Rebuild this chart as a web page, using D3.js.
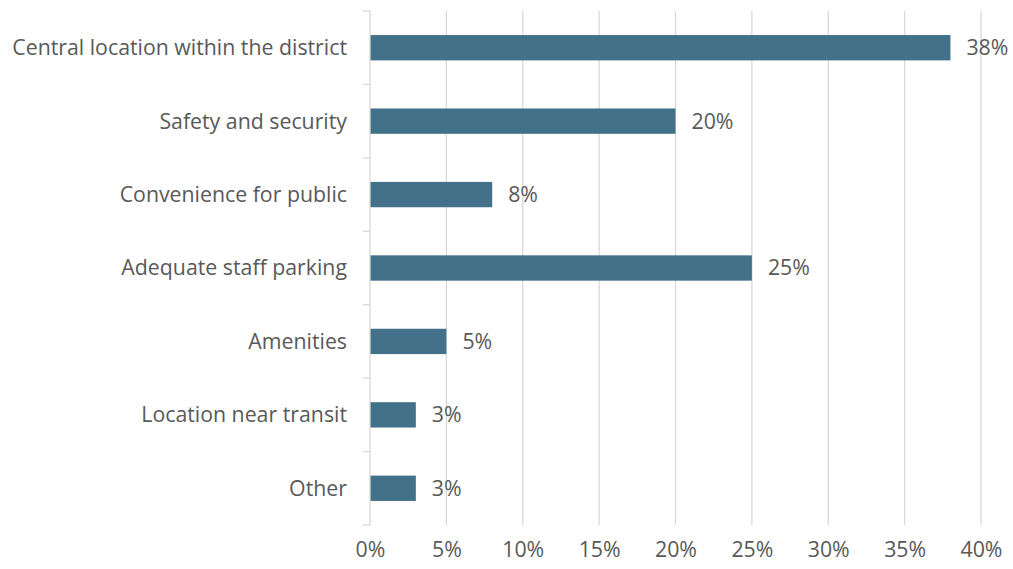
<!DOCTYPE html>
<html>
<head>
<meta charset="utf-8">
<script src="https://cdn.jsdelivr.net/npm/d3@7"></script>
<style>
  html, body { margin: 0; padding: 0; background: #fff; }
  svg text { font-family: "Open Sans", sans-serif; fill: #595959; }
</style>
</head>
<body>
<svg id="chart" width="1013" height="569"></svg>
<script>
// Survey responses: most important factor for office location
const categories = [
  "Central location within the district",
  "Safety and security",
  "Convenience for public",
  "Adequate staff parking",
  "Amenities",
  "Location near transit",
  "Other"
];
const shares = [38, 20, 8, 25, 5, 3, 3];
const xTicks = [0, 5, 10, 15, 20, 25, 30, 35, 40];

const svg = d3.select("#chart");
const margin = { top: 11, right: 32, bottom: 44, left: 370 };
const width = 1013 - margin.left - margin.right;
const height = 569 - margin.top - margin.bottom;
const fontSize = 21.3;

const g = svg.append("g").attr("transform", `translate(${margin.left},${margin.top})`);

const x = d3.scaleLinear().domain([0, 40]).range([0, 611]);
const y = d3.scaleBand().domain(categories).range([0, height]).paddingInner(0.655).paddingOuter(0.3275);

// vertical gridlines
g.selectAll("line.grid")
  .data(xTicks.slice(1))
  .join("line")
  .attr("class", "grid")
  .attr("x1", d => x(d)).attr("x2", d => x(d))
  .attr("y1", 0).attr("y2", height)
  .attr("stroke", "#d9d9d9").attr("stroke-width", 1.3);

// x-axis tick labels
const xAxis = d3.axisBottom(x).tickValues(xTicks).tickFormat(d => d + "%").tickSize(0).tickPadding(17);
const xg = g.append("g").attr("transform", `translate(0,${height})`).call(xAxis);
xg.select(".domain").remove();
xg.selectAll("text").attr("font-size", fontSize).attr("font-family", null).style("fill", "#595959");

// bars
g.selectAll("rect.bar")
  .data(shares)
  .join("rect")
  .attr("class", "bar")
  .attr("x", x(0))
  .attr("y", (d, i) => y(categories[i]))
  .attr("width", d => x(d) - x(0))
  .attr("height", y.bandwidth())
  .attr("fill", "#44718a");

// value labels
g.selectAll("text.val")
  .data(shares)
  .join("text")
  .attr("class", "val")
  .attr("x", d => x(d) + 16)
  .attr("y", (d, i) => y(categories[i]) + y.bandwidth() / 2)
  .attr("dy", "0.35em")
  .attr("font-size", fontSize)
  .text(d => d + "%");

// category axis with band-boundary ticks
const bounds = d3.range(categories.length + 1).map(i => i * height / categories.length);
g.append("line")
  .attr("x1", 0).attr("x2", 0).attr("y1", 0).attr("y2", height)
  .attr("stroke", "#d9d9d9").attr("stroke-width", 1.3);
g.selectAll("line.ytick")
  .data(bounds)
  .join("line")
  .attr("class", "ytick")
  .attr("x1", -7).attr("x2", 0)
  .attr("y1", d => d).attr("y2", d => d)
  .attr("stroke", "#d9d9d9").attr("stroke-width", 1.3);

g.selectAll("text.cat")
  .data(categories)
  .join("text")
  .attr("class", "cat")
  .attr("x", -23)
  .attr("y", d => y(d) + y.bandwidth() / 2)
  .attr("dy", "0.35em")
  .attr("text-anchor", "end")
  .attr("font-size", fontSize)
  .text(d => d);
</script>
</body>
</html>
